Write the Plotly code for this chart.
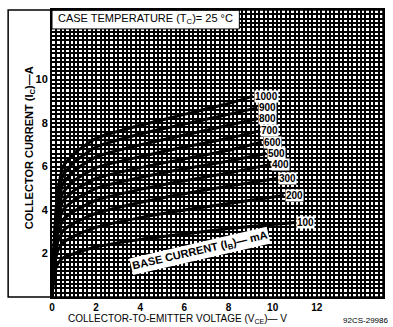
import plotly.graph_objects as go

# Collector-emitter voltage sample points (V) shared by every curve; last point is the curve end
vce_points = [0, 0.1, 0.25, 0.5, 1, 2, 4, 6, 8]

# Base current (mA) for each characteristic curve
base_currents = [1000, 900, 800, 700, 600, 500, 400, 300, 200, 100]

# End voltage of each curve (V)
vce_end = [9.1, 9.3, 9.3, 9.4, 9.5, 9.7, 9.9, 10.2, 10.5, 11.0]

# Collector current (A) at each of vce_points, followed by the value at vce_end
ic_1000 = [0, 2.6, 4.8, 6.0, 6.6, 7.3, 7.9, 8.4, 8.9, 9.24]
ic_900 = [0, 2.4, 4.5, 5.6, 6.2, 6.9, 7.5, 7.95, 8.4, 8.7]
ic_800 = [0, 2.3, 4.2, 5.2, 5.8, 6.45, 7.0, 7.45, 7.9, 8.2]
ic_700 = [0, 2.1, 3.9, 4.8, 5.35, 5.95, 6.45, 6.9, 7.3, 7.64]
ic_600 = [0, 2.0, 3.6, 4.4, 4.9, 5.45, 5.95, 6.35, 6.75, 7.12]
ic_500 = [0, 1.9, 3.3, 4.0, 4.45, 5.0, 5.5, 5.9, 6.25, 6.6]
ic_400 = [0, 1.7, 2.9, 3.55, 3.95, 4.45, 4.95, 5.35, 5.7, 6.1]
ic_300 = [0, 1.5, 2.5, 3.05, 3.4, 3.85, 4.35, 4.75, 5.1, 5.45]
ic_200 = [0, 1.3, 2.1, 2.5, 2.8, 3.2, 3.65, 4.0, 4.3, 4.67]
ic_100 = [0, 1.0, 1.5, 1.8, 2.0, 2.3, 2.65, 2.9, 3.15, 3.43]

ic_curves = [ic_1000, ic_900, ic_800, ic_700, ic_600,
             ic_500, ic_400, ic_300, ic_200, ic_100]

x_ticks = [0, 2, 4, 6, 8, 10, 12]
y_ticks = [2, 4, 6, 8, 10]

FONT = "Liberation Sans"

fig = go.Figure()

for ib, ic, v_end in zip(base_currents, ic_curves, vce_end):
    fig.add_trace(go.Scatter(
        x=vce_points + [v_end], y=ic, mode="lines",
        line=dict(color="black", width=3, shape="spline", smoothing=0.5),
        showlegend=False, hoverinfo="skip"))
    fig.add_annotation(
        x=v_end, y=ic[-1], text=f"<b>{ib}</b>", showarrow=False,
        xanchor="left", yanchor="middle", xshift=1,
        bgcolor="white", borderpad=0,
        font=dict(family=FONT, size=10, color="black"))

# Base-current caption laid along the lowest curve
fig.add_annotation(
    x=6.7, y=2.1, text="<b>BASE CURRENT (I<sub>B</sub>)— mA</b>",
    showarrow=False, textangle=-13, bgcolor="white", borderpad=1,
    font=dict(family=FONT, size=11, color="black"))

# Case temperature heading box at the top of the grid
fig.add_shape(type="rect", xref="paper", yref="paper",
              x0=0, x1=0.566, y0=0.934, y1=1,
              fillcolor="white", line=dict(color="black", width=1))
fig.add_annotation(
    xref="paper", yref="paper", x=0.012, y=0.967,
    text="CASE TEMPERATURE (T<sub>C</sub>)= 25 °C",
    showarrow=False, xanchor="left", yanchor="middle",
    font=dict(family=FONT, size=11, color="black"))

# Outer frame around the axis-title area
fig.add_shape(type="rect", xref="paper", yref="paper",
              x0=-0.1325, x1=1, y0=0, y1=1,
              fillcolor="rgba(0,0,0,0)", line=dict(color="black", width=1.5))

# Axis titles and drawing number
fig.add_annotation(
    xref="paper", yref="paper", x=-0.095, y=0.52,
    text="<b>COLLECTOR CURRENT (I<sub>C</sub>)—A</b>", textangle=-90,
    showarrow=False, font=dict(family=FONT, size=11, color="black"))
fig.add_annotation(
    xref="paper", yref="paper", x=0.38, y=-0.1035, yanchor="bottom",
    text="COLLECTOR-TO-EMITTER VOLTAGE (V<sub>CE</sub>)— V",
    showarrow=False, font=dict(family=FONT, size=10, color="black"))
fig.add_annotation(
    xref="paper", yref="paper", x=1.02, y=-0.1035, xanchor="right", yanchor="bottom",
    text="92CS-29986", showarrow=False,
    font=dict(family=FONT, size=8, color="black"))

grid = dict(showgrid=True, gridcolor="black", gridwidth=2)

fig.update_xaxes(
    range=[0, 15], tickvals=x_ticks, ticktext=[f"<b>{v}</b>" for v in x_ticks],
    ticks="", zeroline=False, ticklabelstandoff=0,
    showline=True, linecolor="black", linewidth=2, mirror=True,
    tickfont=dict(family=FONT, size=10, color="black"),
    minor=dict(tickmode="linear", tick0=0, dtick=0.2, **grid), **grid)
fig.update_yaxes(
    range=[0, 13.2], tickvals=y_ticks, ticktext=[f"<b>{v}</b>" for v in y_ticks],
    ticks="", zeroline=False,
    showline=True, linecolor="black", linewidth=2, mirror=True,
    tickfont=dict(family=FONT, size=11, color="black"),
    minor=dict(tickmode="linear", tick0=0, dtick=0.2, **grid), **grid)

fig.update_layout(
    width=393, height=327,
    margin=dict(l=52, r=9, t=8, b=30),
    plot_bgcolor="white", paper_bgcolor="white",
    font=dict(family=FONT, color="black"))

fig.write_html("out.html")
